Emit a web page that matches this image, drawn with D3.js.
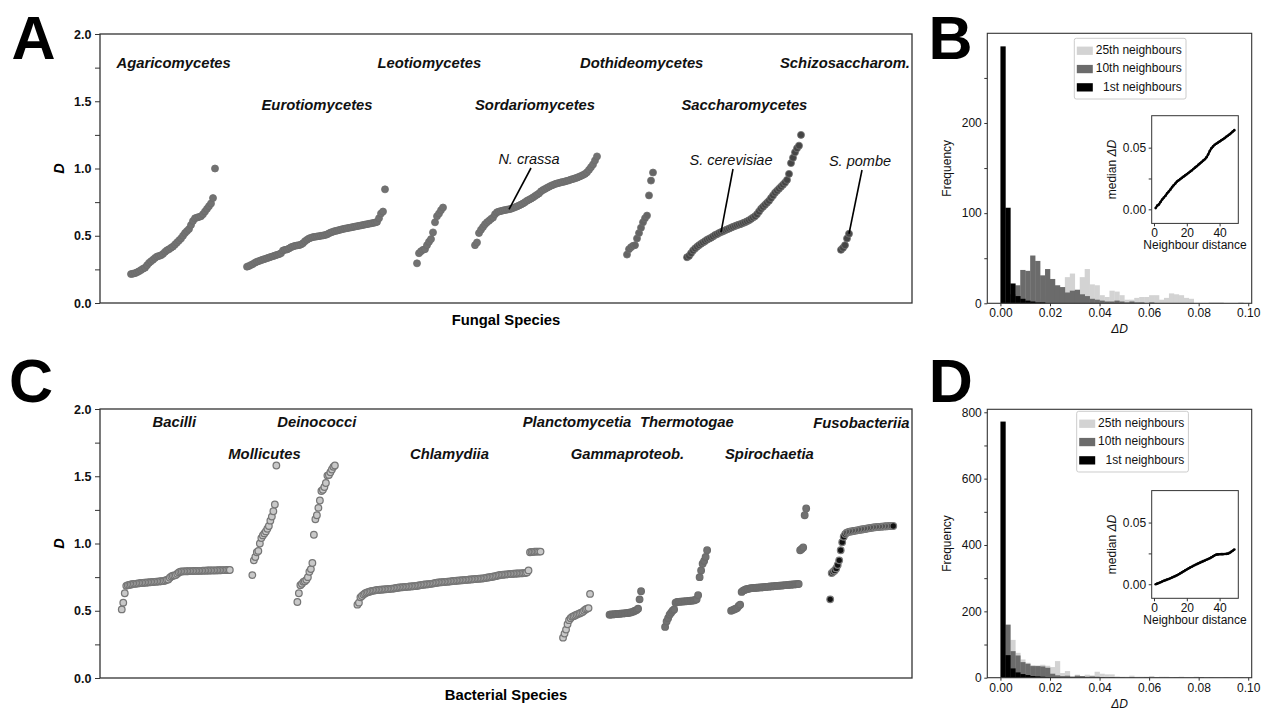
<!DOCTYPE html>
<html>
<head>
<meta charset="utf-8">
<script src="https://cdn.jsdelivr.net/npm/d3@7"></script>
<style>
  body { margin: 0; background: #fff; }
  svg { display: block; }
</style>
</head>
<body>
<svg id="fig" width="1262" height="711"></svg>
<script>
// ---------------- data ----------------
// Panel A: sorted D values per fungal class, and first species rank of each class
const fungalClasses = ["Agaricomycetes", "Eurotiomycetes", "Leotiomycetes", "Sordariomycetes",
  "Dothideomycetes", "Saccharomycetes", "Schizosaccharom."];
const fungalStart = [15, 73, 158, 187, 263, 293, 370];
const agaricomycetesD = [0.215,0.218,0.222,0.228,0.236,0.245,0.255,0.262,0.28,0.298,0.31,0.322,0.335,0.345,0.35,
  0.355,0.365,0.38,0.392,0.4,0.41,0.42,0.435,0.45,0.465,0.48,0.5,0.52,0.535,0.55,0.58,0.61,0.63,0.635,0.64,0.645,
  0.66,0.68,0.7,0.72,0.74,0.78,1.0];
const eurotiomycetesD = [0.27,0.275,0.283,0.29,0.3,0.307,0.312,0.318,0.323,0.328,0.333,0.338,0.343,0.348,0.353,
  0.358,0.363,0.37,0.39,0.395,0.398,0.405,0.415,0.42,0.425,0.428,0.43,0.435,0.445,0.46,0.47,0.48,0.485,0.49,0.492,
  0.495,0.497,0.5,0.502,0.505,0.51,0.518,0.525,0.53,0.535,0.538,0.542,0.546,0.55,0.553,0.556,0.559,0.562,0.565,
  0.568,0.571,0.574,0.577,0.58,0.583,0.586,0.589,0.592,0.595,0.598,0.603,0.63,0.665,0.68,0.845];
const leotiomycetesD = [0.295,0.37,0.385,0.395,0.4,0.43,0.455,0.475,0.525,0.6,0.645,0.665,0.69,0.71];
const sordariomycetesD = [0.43,0.45,0.52,0.545,0.565,0.585,0.6,0.612,0.625,0.635,0.66,0.675,0.68,0.684,0.688,
  0.691,0.694,0.697,0.7,0.706,0.712,0.718,0.725,0.732,0.74,0.75,0.76,0.768,0.776,0.785,0.795,0.805,0.815,0.83,
  0.84,0.848,0.856,0.864,0.872,0.878,0.884,0.889,0.893,0.897,0.9,0.904,0.908,0.912,0.918,0.922,0.927,0.932,0.938,
  0.945,0.952,0.96,0.972,0.99,1.01,1.03,1.06,1.09];
const dothideomycetesD = [0.36,0.4,0.415,0.425,0.43,0.48,0.52,0.56,0.6,0.63,0.65,0.8,0.91,0.97];
const saccharomycetesD = [0.34,0.35,0.37,0.39,0.405,0.418,0.43,0.44,0.45,0.46,0.47,0.478,0.485,0.495,0.505,
  0.512,0.52,0.527,0.533,0.54,0.547,0.553,0.56,0.566,0.572,0.578,0.583,0.588,0.594,0.6,0.607,0.615,0.625,0.635,
  0.645,0.66,0.68,0.7,0.715,0.73,0.745,0.76,0.78,0.8,0.82,0.835,0.85,0.865,0.88,0.895,0.915,0.96,1.04,1.08,1.12,
  1.15,1.17,1.25];
const schizosaccharomD = [0.395,0.41,0.43,0.48,0.515];
const fungalValues = [agaricomycetesD, eurotiomycetesD, leotiomycetesD, sordariomycetesD,
  dothideomycetesD, saccharomycetesD, schizosaccharomD];
const fungalStyle = ["mid", "mid", "mid", "mid", "midDark", "dark", "dark"];
// highlighted species: class index, position within class
const fungalNotes = [
  { label: "N. crassa", cls: 3, i: 17 },
  { label: "S. cerevisiae", cls: 5, i: 17 },
  { label: "S. pombe", cls: 6, i: 4 }
];

// Panel C: sorted D values per bacterial class
const bacterialClasses = ["Bacilli", "Mollicutes", "Deinococci", "Chlamydiia", "Planctomycetia",
  "Gammaproteob.", "Thermotogae", "Spirochaetia", "Fusobacteriia"];
const bacterialStart = [14, 101, 131, 171, 308, 339, 376, 420, 486];
const bacilliD = [0.51,0.56,0.63,0.685,0.69,0.692,0.695,0.697,
  0.7,0.7,0.702,0.703,0.705,0.706,0.707,0.708,0.709,0.71,0.711,0.712,0.713,0.714,0.715,0.716,0.717,0.718,0.719,0.72,
  0.722,0.725,0.73,0.732,0.745,0.755,0.76,0.762,0.765,0.775,0.785,0.79,0.792,
  0.793,0.793,0.794,0.794,0.795,0.795,0.795,0.796,0.796,0.796,0.797,0.797,0.797,0.798,0.798,0.798,0.799,0.799,
  0.799,0.8,0.8,0.8,0.8,0.801,0.801,0.801,0.802,0.802,0.802,0.803,0.803,0.803];
const mollicutesD = [0.765,0.875,0.9,0.935,0.945,1.0,1.04,1.06,1.075,1.09,1.11,1.13,1.17,1.2,1.24,1.29,1.58];
const deinococciD = [0.565,0.63,0.69,0.7,0.715,0.72,0.73,0.75,0.79,0.81,0.855,1.065,1.18,1.21,1.265,1.32,1.39,
  1.4,1.42,1.45,1.505,1.51,1.53,1.55,1.57,1.58];
const chlamydiiaD = [0.545,0.56,0.6,0.61,0.62,0.628,0.634,0.638,0.642,0.645,0.648,0.65,0.652,
  0.654,0.655,0.656,0.657,0.658,0.659,0.66,0.661,0.662,0.663,0.664,0.665,0.667,0.669,0.671,0.673,
  0.674,0.675,0.676,0.677,0.678,0.679,0.68,0.681,0.682,0.683,0.684,0.686,
  0.688,0.69,0.692,0.694,0.695,0.696,0.697,0.698,0.7,0.702,0.704,
  0.706,0.708,0.71,0.711,0.712,0.713,0.714,0.715,0.716,0.717,0.718,0.72,0.721,
  0.722,0.723,0.724,0.725,0.726,0.727,0.728,0.729,0.73,0.731,0.732,0.733,0.734,0.735,0.736,0.737,0.738,0.739,0.74,0.741,
  0.743,0.745,0.747,0.749,0.751,0.753,0.755,0.757,0.76,0.763,0.766,
  0.767,0.768,0.769,0.77,0.771,0.772,0.773,0.774,0.775,0.776,0.777,
  0.777,0.778,0.778,0.779,0.78,0.78,0.785,0.8,
  0.935,0.937,0.938,0.939,0.94,0.94,0.94,0.94];
const planctomycetiaD = [0.3,0.33,0.36,0.4,0.43,0.445,0.455,0.46,0.465,0.47,0.475,0.48,0.485,0.49,0.5,0.51,0.515,
  0.52,0.625];
const gammaproteobD = [0.47,0.472,0.473,0.474,0.475,0.476,0.477,0.478,0.479,0.48,0.481,0.482,0.483,0.485,0.487,
  0.49,0.495,0.5,0.505,0.515,0.585,0.645];
const thermotogaeD = [0.38,0.42,0.445,0.47,0.485,0.5,0.51,0.56,0.565,0.566,0.567,0.568,0.569,0.57,0.571,0.572,
  0.573,0.574,0.575,0.577,0.58,0.585,0.615,0.75,0.8,0.85,0.87,0.9,0.95];
const spirochaetiaD = [0.5,0.505,0.51,0.515,0.52,0.535,0.545,0.64,0.65,0.655,0.66,0.662,0.665,0.667,0.668,0.669,
  0.67,0.671,0.672,0.673,0.674,0.675,0.676,0.677,0.678,0.679,0.68,0.681,0.682,0.683,0.684,0.685,0.686,0.687,0.688,
  0.689,0.69,0.691,0.692,0.693,0.694,0.695,0.696,0.697,0.698,0.699,0.95,0.96,0.97,1.21,1.26];
const fusobacteriiaD = [0.585,0.78,0.79,0.8,0.815,0.84,0.875,0.95,1.01,1.05,1.07,1.08,1.085,1.088,1.09,1.092,
  1.094,1.096,1.098,1.1,1.102,1.104,1.106,1.108,1.11,1.112,1.114,1.116,1.118,1.12,1.121,1.122,1.123,1.124,1.125,
  1.126,1.127,1.128,1.128,1.129,1.13,1.13,1.13];
const bacterialValues = [bacilliD, mollicutesD, deinococciD, chlamydiiaD, planctomycetiaD,
  gammaproteobD, thermotogaeD, spirochaetiaD, fusobacteriiaD];
const bacterialStyle = ["light", "light", "light", "light", "light", "mid", "mid", "mid", "black"];

// D axis ticks
const dTicks = [0, 0.25, 0.5, 0.75, 1.0, 1.25, 1.5, 1.75, 2.0];
const dTickLabels = [0, 0.5, 1.0, 1.5, 2.0];

// Panels B and D: histogram counts of delta D, bins of 0.002 starting at 0
const binWidth = 0.002;
const fungal1st = [285,106,22,8,5,3,2,1,1,0,0,0,0,0,0,0,0,0,0,0,0,0,0,0,0,
  0,0,0,0,0,0,0,0,0,0,0,0,0,0,0,0,0,0,0,0,0,0,0,0,0];
const fungal10th = [0,2,10,20,37,36,53,47,31,38,27,20,18,12,14,15,10,8,5,4,3,2,2,3,2,
  1,2,1,1,0,1,0,0,0,0,0,0,0,0,0,0,0,0,0,0,0,0,0,0,0];
const fungal25th = [0,0,0,0,1,1,2,3,5,8,10,14,17,29,33,15,29,38,21,20,9,7,14,13,9,
  4,4,6,7,7,9,9,4,6,11,10,9,6,5,0,0,0,1,1,1,0,0,0,1,0];
const bacterial1st = [772,68,28,16,11,8,5,4,3,2,1,1,0,0,0,0,0,0,0,0,0,0,0,0,0,
  0,0,0,0,0,0,0,0,0,0,0,0,0,0,0,0,0,0,0,0,0,0,0,0,0];
const bacterial10th = [0,160,80,67,47,42,35,35,34,30,12,7,5,6,3,6,5,3,4,3,2,1,2,1,1,
  0,1,0,0,1,0,0,0,0,0,1,0,0,0,0,1,0,0,0,0,0,0,0,0,0];
const bacterial25th = [0,0,114,75,55,45,38,37,39,36,32,50,14,20,5,9,5,9,7,18,12,10,10,4,3,
  3,6,3,3,3,5,2,3,3,2,0,3,0,0,3,2,0,2,0,0,2,1,0,2,0];
const deltaTicks = [0, 0.02, 0.04, 0.06, 0.08, 0.1];
const fungalFreqTicks = [0, 50, 100, 150, 200, 250];
const fungalFreqLabels = [0, 100, 200];
const bacterialFreqTicks = [0, 100, 200, 300, 400, 500, 600, 700, 800];
const bacterialFreqLabels = [0, 200, 400, 600, 800];
const legendNames = ["25th neighbours", "10th neighbours", "1st neighbours"];

// Insets: median delta D against neighbour distance
const neighbourDistance = [1,2,3,4,5,6,7,8,9,10,11,12,13,14,15,16,17,18,19,20,21,22,23,24,25,
  26,27,28,29,30,31,32,33,34,35,36,37,38,39,40,41,42,43,44,45,46,47,48,49];
const fungalMedian = [0.001,0.003,0.004,0.006,0.008,0.0095,0.011,0.013,0.0145,0.016,0.018,0.0195,0.021,0.0225,
  0.0235,0.0245,0.0255,0.0265,0.0275,0.0285,0.0295,0.0305,0.0315,0.0327,0.0338,0.0349,0.036,0.0372,0.0383,
  0.0395,0.0406,0.0422,0.0445,0.0472,0.0495,0.051,0.0523,0.0532,0.0541,0.055,0.0559,0.0568,0.0577,0.0587,
  0.0597,0.0607,0.0618,0.063,0.0642];
const bacterialMedian = [0.0,0.0005,0.001,0.0016,0.0022,0.0028,0.0033,0.0038,0.0043,0.0048,0.0054,0.006,0.0066,
  0.0073,0.008,0.0088,0.0096,0.0104,0.0112,0.012,0.0128,0.0135,0.0142,0.0149,0.0156,0.0163,0.0169,0.0175,
  0.0181,0.0187,0.0193,0.0199,0.0205,0.0211,0.0218,0.0226,0.0234,0.024,0.0242,0.0243,0.0244,0.0244,0.0245,
  0.0246,0.0248,0.0254,0.0262,0.0272,0.0282];

// ---------------- drawing ----------------
const FONT = '"Liberation Sans", Arial, Helvetica, sans-serif';
const svg = d3.select("#fig").attr("font-family", FONT);
svg.append("rect").attr("width", 1262).attr("height", 711).attr("fill", "#fff");

const pointStyles = {
  light:   { fill: "#c8c8c8", stroke: "#767676" },
  mid:     { fill: "#727272", stroke: "#6c6c6c" },
  midDark: { fill: "#656565", stroke: "#6e6e6e" },
  dark:    { fill: "#454545", stroke: "#747474" },
  black:   { fill: "#111", stroke: "#7a7a7a" }
};

function styleAxis(sel, size, weight) {
  sel.select(".domain").remove();
  sel.selectAll(".tick line").attr("stroke", "#333").attr("stroke-width", 1);
  sel.selectAll(".tick text").attr("font-family", FONT).attr("font-size", size)
    .attr("font-weight", weight).attr("fill", "#111");
}

function frame(g, l, t, r, b, w) {
  g.append("rect").attr("x", l).attr("y", t).attr("width", r - l).attr("height", b - t)
    .attr("fill", "none").attr("stroke", "#333").attr("stroke-width", w);
}

function panelLetter(txt, x, y) {
  svg.append("text").attr("x", x).attr("y", y).attr("font-size", 61).attr("font-weight", "bold")
    .attr("fill", "#000").text(txt);
}

// scatter panels (A, C)
function scatterPanel(o) {
  const g = svg.append("g");
  const x = d3.scaleLinear().domain(o.xDomain).range([o.left, o.right]);
  const y = d3.scaleLinear().domain([0, 2]).range([o.bottom, o.top]);

  const ya = g.append("g").attr("transform", `translate(${o.left},0)`)
    .call(d3.axisLeft(y).tickValues(dTicks).tickSize(5).tickPadding(3.5)
      .tickFormat(d => dTickLabels.includes(d) ? d.toFixed(1) : ""));
  styleAxis(ya, 12.5, "bold");

  g.append("text")
    .attr("transform", `translate(${o.left - 36},${(o.top + o.bottom) / 2}) rotate(-90)`)
    .attr("text-anchor", "middle").attr("font-size", 14.5).attr("font-weight", "bold")
    .attr("font-style", "italic").text("D");

  g.append("text").attr("x", (o.left + o.right) / 2).attr("y", o.bottom + 22)
    .attr("text-anchor", "middle").attr("font-size", 14.8).attr("font-weight", "bold")
    .text(o.xTitle);

  o.values.forEach((vals, gi) => {
    const st = pointStyles[o.styles[gi]];
    g.append("g").selectAll("circle").data(vals).join("circle")
      .attr("cx", (d, i) => x(o.start[gi] + i))
      .attr("cy", d => y(d))
      .attr("r", o.r)
      .attr("fill", st.fill)
      .attr("stroke", st.stroke)
      .attr("stroke-width", o.sw);
  });

  o.names.forEach((name, gi) => {
    g.append("text").attr("x", o.labelPos[gi][0]).attr("y", o.labelPos[gi][1])
      .attr("font-size", 14.8).attr("font-weight", "bold").attr("font-style", "italic")
      .attr("fill", "#111").text(name);
  });

  (o.notes || []).forEach((n, k) => {
    const px = x(o.start[n.cls] + n.i), py = y(o.values[n.cls][n.i]);
    const [tx, ty] = o.notePos[k];
    g.append("line").attr("x1", tx + 2).attr("y1", ty + 4).attr("x2", px).attr("y2", py)
      .attr("stroke", "#000").attr("stroke-width", 1.6);
    g.append("text").attr("x", tx).attr("y", ty).attr("text-anchor", "middle")
      .attr("font-size", 14.5).attr("font-style", "italic").attr("fill", "#111").text(n.label);
  });

  frame(g, o.left, o.top, o.right, o.bottom, 1.3);
}

scatterPanel({
  left: 100, right: 912, top: 34, bottom: 303, xDomain: [-0.5, 405.5],
  values: fungalValues, start: fungalStart, styles: fungalStyle, names: fungalClasses,
  r: 3.5, sw: 0.8, xTitle: "Fungal Species",
  labelPos: [[116.5, 68], [261.5, 110], [377.5, 68], [475, 110], [580, 68], [681.5, 110], [780, 68]],
  notes: fungalNotes, notePos: [[529, 164], [731, 165], [860, 166]]
});

scatterPanel({
  left: 100, right: 912, top: 409, bottom: 678, xDomain: [-0.5, 540.5],
  values: bacterialValues, start: bacterialStart, styles: bacterialStyle, names: bacterialClasses,
  r: 3.3, sw: 1.25, xTitle: "Bacterial Species",
  labelPos: [[152.5, 427], [228.3, 459], [277.3, 427], [410, 459], [522.7, 427], [570.7, 459],
    [640, 427], [725, 459], [813.3, 428]]
});

// histogram panels (B, D)
function histPanel(o) {
  const g = svg.append("g");
  const x = d3.scaleLinear().domain([-0.0053, 0.1014]).range([o.left, o.right]);
  const y = d3.scaleLinear().domain([0, o.yMax]).range([o.bottom, o.top]);

  const series = [
    { vals: o.h25, color: "#d3d3d3" },
    { vals: o.h10, color: "#6b6b6b" },
    { vals: o.h1, color: "#000" }
  ];
  series.forEach(s => {
    g.append("g").selectAll("rect").data(s.vals).join("rect")
      .attr("x", (d, i) => x(i * binWidth))
      .attr("width", (d, i) => x((i + 1) * binWidth) - x(i * binWidth) + 0.3)
      .attr("y", d => y(d))
      .attr("height", d => y(0) - y(d))
      .attr("fill", s.color);
  });

  const xa = g.append("g").attr("transform", `translate(0,${o.bottom})`)
    .call(d3.axisBottom(x).tickValues(deltaTicks).tickSize(3).tickPadding(2.5)
      .tickFormat(d3.format(".2f")));
  styleAxis(xa, 12, "normal");
  const ya = g.append("g").attr("transform", `translate(${o.left},0)`)
    .call(d3.axisLeft(y).tickValues(o.yTicks).tickSize(3).tickPadding(2.5)
      .tickFormat(d => o.yLabels.includes(d) ? d : ""));
  styleAxis(ya, 12, "normal");

  g.append("text").attr("x", (o.left + o.right) / 2).attr("y", o.bottom + 30)
    .attr("text-anchor", "middle").attr("font-size", 12).attr("font-style", "italic")
    .attr("fill", "#111").text("\u0394D");
  g.append("text")
    .attr("transform", `translate(${o.left - 36.5},${(o.top + o.bottom) / 2}) rotate(-90)`)
    .attr("text-anchor", "middle").attr("font-size", 12).attr("fill", "#111").text("Frequency");

  frame(g, o.left, o.top, o.right, o.bottom, 1.1);

  // legend
  const lg = g.append("g").attr("transform", `translate(${o.legendX},${o.legendY})`);
  lg.append("rect").attr("x", 0).attr("y", 0).attr("width", 111.7).attr("height", 60.7)
    .attr("rx", 2).attr("fill", "#fff").attr("stroke", "#cccccc").attr("stroke-width", 1);
  legendNames.forEach((name, k) => {
    lg.append("rect").attr("x", 2.5).attr("y", 8.3 + k * 18.3).attr("width", 16).attr("height", 8.3)
      .attr("fill", series[k].color);
    lg.append("text").attr("x", 107.5).attr("y", 15.7 + k * 18.3).attr("text-anchor", "end")
      .attr("font-size", 12).attr("fill", "#111").text(name);
  });

  // inset
  const il = 1151.7, ir = 1238.3, it = o.insetTop, ib = o.insetTop + 107.7;
  const ix = d3.scaleLinear().domain([-1.4, 51.4]).range([il, ir]);
  const iy = d3.scaleLinear().domain([-0.0114, 0.0759]).range([ib, it]);
  g.append("rect").attr("x", il).attr("y", it).attr("width", ir - il).attr("height", ib - it).attr("fill", "#fff");
  const ixa = g.append("g").attr("transform", `translate(0,${ib})`)
    .call(d3.axisBottom(ix).tickValues([0, 20, 40]).tickSize(3).tickPadding(2));
  styleAxis(ixa, 12, "normal");
  const iya = g.append("g").attr("transform", `translate(${il},0)`)
    .call(d3.axisLeft(iy).tickValues([0, 0.025, 0.05]).tickSize(3).tickPadding(2.5)
      .tickFormat(d => d === 0.025 ? "" : d3.format(".2f")(d)));
  styleAxis(iya, 12, "normal");
  const line = d3.line().x((d, i) => ix(neighbourDistance[i])).y(d => iy(d));
  g.append("path").datum(o.median).attr("d", line).attr("fill", "none")
    .attr("stroke", "#000").attr("stroke-width", 2.2);
  g.append("g").selectAll("circle").data(o.median).join("circle")
    .attr("cx", (d, i) => ix(neighbourDistance[i])).attr("cy", d => iy(d)).attr("r", 1.3).attr("fill", "#000");
  frame(g, il, it, ir, ib, 1);
  g.append("text").attr("x", (il + ir) / 2).attr("y", ib + 26).attr("text-anchor", "middle")
    .attr("font-size", 12).attr("fill", "#111").text("Neighbour distance");
  const ml = g.append("text")
    .attr("transform", `translate(${il - 35.5},${(it + ib) / 2}) rotate(-90)`)
    .attr("text-anchor", "middle").attr("font-size", 12).attr("fill", "#111");
  ml.append("tspan").text("median ");
  ml.append("tspan").attr("font-style", "italic").text("\u0394D");
}

histPanel({
  left: 987.3, right: 1251.7, top: 33.3, bottom: 303.3, yMax: 299.5,
  yTicks: fungalFreqTicks, yLabels: fungalFreqLabels,
  h1: fungal1st, h10: fungal10th, h25: fungal25th,
  legendX: 1074.3, legendY: 38.3, insetTop: 115.7, median: fungalMedian
});

histPanel({
  left: 987.3, right: 1251.7, top: 409.3, bottom: 677.7, yMax: 809,
  yTicks: bacterialFreqTicks, yLabels: bacterialFreqLabels,
  h1: bacterial1st, h10: bacterial10th, h25: bacterial25th,
  legendX: 1076.7, legendY: 411.3, insetTop: 490.6, median: bacterialMedian
});

panelLetter("A", 11.5, 59.3);
panelLetter("B", 928.4, 59.3);
panelLetter("C", 9, 402);
panelLetter("D", 928.7, 402);
</script>
</body>
</html>
